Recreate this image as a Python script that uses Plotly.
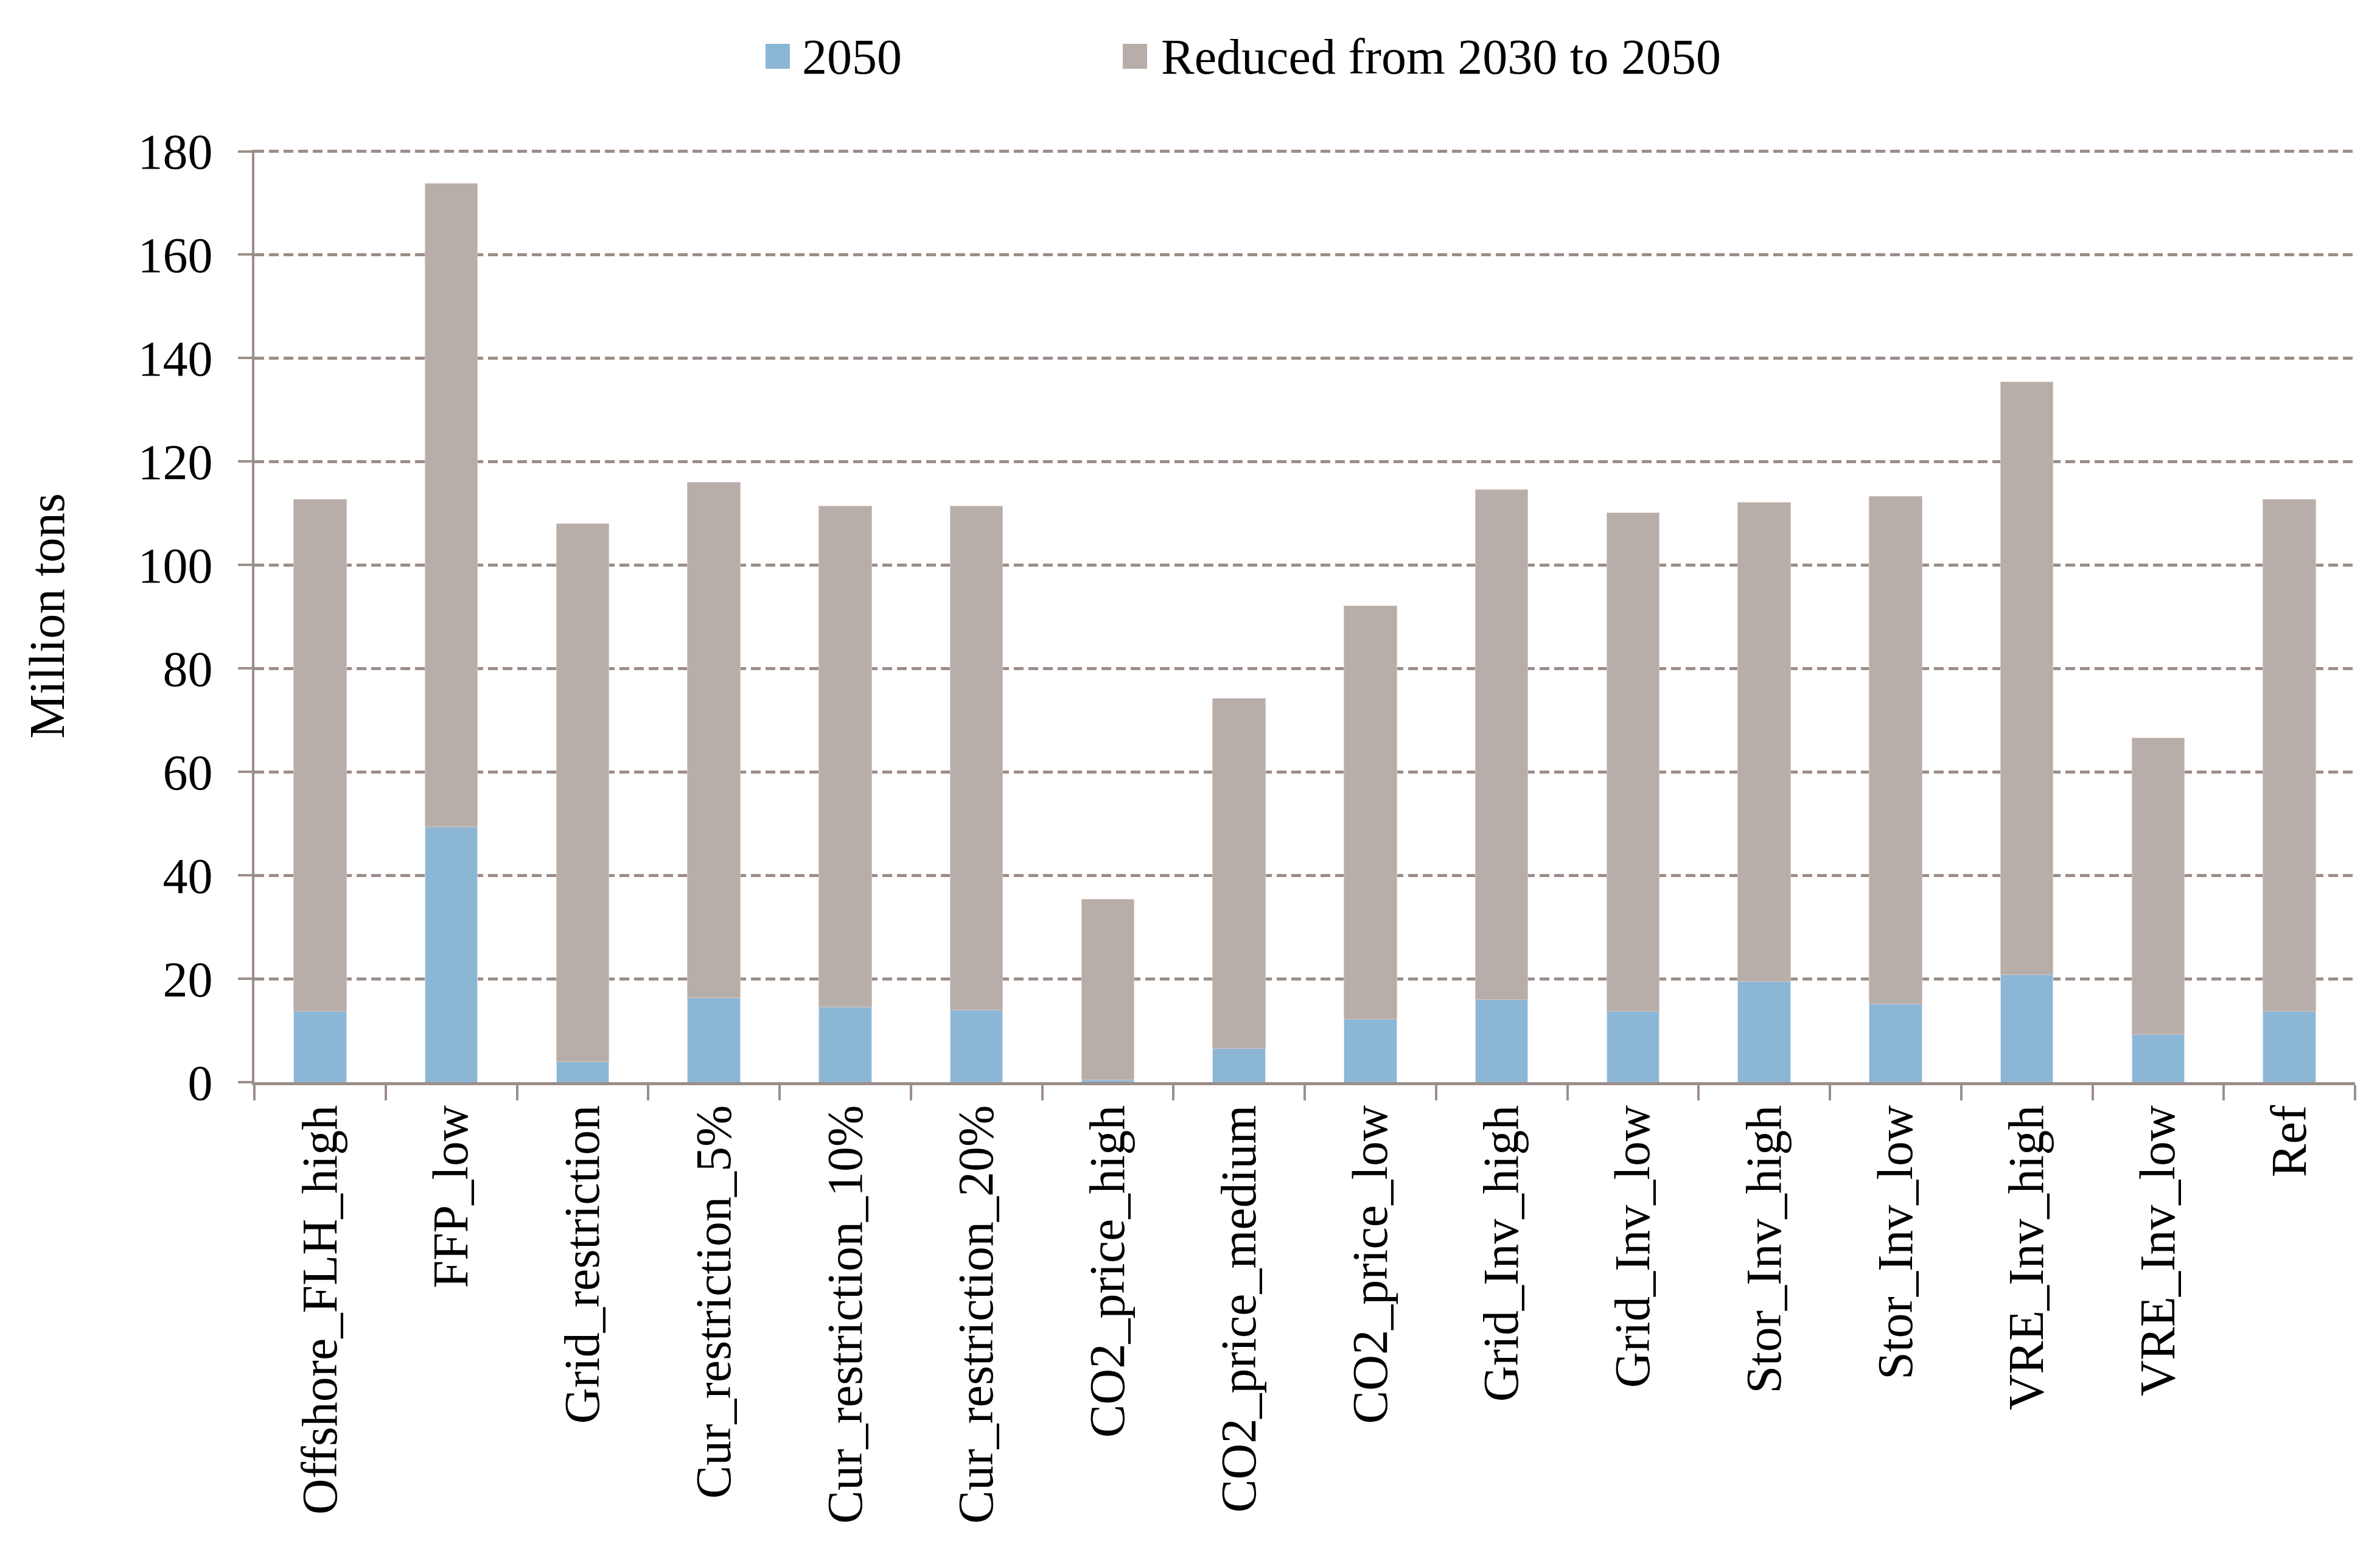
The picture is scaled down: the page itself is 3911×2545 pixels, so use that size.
import plotly.graph_objects as go

categories = ["Offshore_FLH_high", "FFP_low", "Grid_restriction", "Cur_restriction_5%",
              "Cur_restriction_10%", "Cur_restriction_20%", "CO2_price_high", "CO2_price_medium",
              "CO2_price_low", "Grid_Inv_high", "Grid_Inv_low", "Stor_Inv_high", "Stor_Inv_low",
              "VRE_Inv_high", "VRE_Inv_low", "Ref"]
emissions_2050 = [13.7, 49.4, 4.0, 16.3, 14.5, 13.9, 0.4, 6.5, 12.2, 16.0, 13.7, 19.5, 15.1, 20.8, 9.2, 13.7]
reduced_2030_2050 = [99.0, 124.4, 104.0, 99.7, 96.9, 97.5, 35.0, 67.7, 79.9, 98.6, 96.4, 92.6, 98.2, 114.6, 57.3, 99.0]
y_ticks = [0, 20, 40, 60, 80, 100, 120, 140, 160, 180]
series_names = ["2050", "Reduced from 2030 to 2050"]

BLUE = "#8BB6D6"
GRAY = "#B7AEA9"
AXIS = "#9B8E89"
FONT = "Liberation Serif"

W, H = 3911, 2545
L, R, T, B = 410, 49, 238, 775
PW, PH = W - L - R, H - T - B


def px_x(p):
    return (p - L) / PW


def px_y(p):
    return 1 - (p - T) / PH


fig = go.Figure()
fig.add_trace(go.Bar(x=categories, y=emissions_2050, name=series_names[0], marker_color=BLUE,
                     marker_line=dict(width=1, color="#DCE6EE"), showlegend=False))
fig.add_trace(go.Bar(x=categories, y=reduced_2030_2050, name=series_names[1],
                     marker_color=GRAY, marker_line=dict(width=1, color="#DCC6C0"), showlegend=False))

# manual legend (large square swatches)
legend_items = [(series_names[0], BLUE, 1250, 1308), (series_names[1], GRAY, 1837, 1898)]
shapes, annotations = [], []
for nm, col, sx, tx in legend_items:
    shapes.append(dict(type="rect", xref="paper", yref="paper",
                       x0=px_x(sx), x1=px_x(sx + 40), y0=px_y(105), y1=px_y(64),
                       fillcolor=col, line=dict(width=0)))
    annotations.append(dict(text=nm, xref="paper", yref="paper", x=px_x(tx), y=px_y(85),
                            xanchor="left", yanchor="middle", showarrow=False,
                            font=dict(family=FONT, size=82, color="black")))

fig.update_layout(
    width=W, height=H,
    margin=dict(l=L, r=R, t=T, b=B),
    barmode="stack", bargap=0.6,
    plot_bgcolor="white", paper_bgcolor="white",
    font=dict(family=FONT, size=82, color="black"),
    showlegend=False,
    shapes=shapes, annotations=annotations,
    xaxis=dict(type="category", tickangle=-90, tickson="boundaries", ticks="outside",
               ticklen=25, tickwidth=4, tickcolor=AXIS, showline=True, linewidth=5,
               linecolor=AXIS, showgrid=False, tickfont=dict(size=82, family=FONT),
               automargin=False),
    yaxis=dict(range=[0, 180.3], tickvals=y_ticks, ticks="outside", ticklen=23, tickwidth=4,
               tickcolor=AXIS, showline=True, linewidth=4, linecolor=AXIS,
               showgrid=True, gridcolor=AXIS, gridwidth=5, griddash="16px,8px",
               zeroline=False, tickfont=dict(size=82, family=FONT), automargin=False,
               ticklabelstandoff=25,
               title=dict(text="Million tons", font=dict(size=82, family=FONT), standoff=95)),
)

fig.write_html("out.html")
